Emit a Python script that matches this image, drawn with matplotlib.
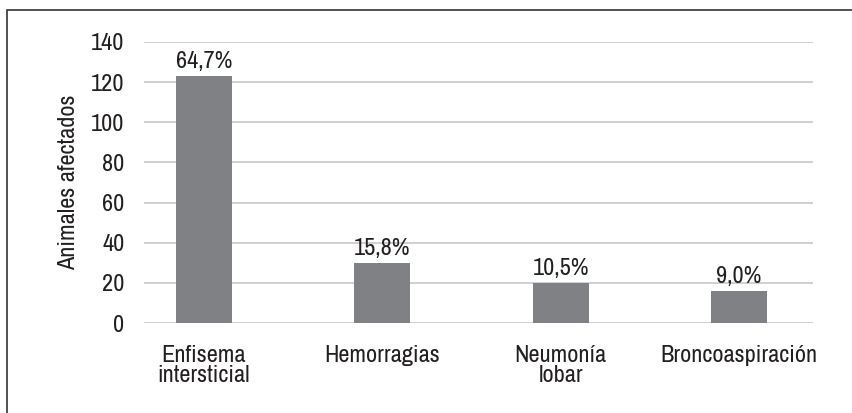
import matplotlib
matplotlib.use("Agg")
import matplotlib.pyplot as plt
from matplotlib.patches import Rectangle

categories = ["Enfisema\nintersticial", "Hemorragias", "Neumonía\nlobar", "Broncoaspiración"]
afectados = [123, 30, 20, 16]
porcentajes = ["64,7%", "15,8%", "10,5%", "9,0%"]
yticks = [0, 20, 40, 60, 80, 100, 120, 140]

plt.rcParams['font.family'] = ['Archivo Narrow', 'DejaVu Sans']
text_color = "#231f20"
fs = 17.5

W, H = 853, 413
fig = plt.figure(figsize=(W / 100, H / 100), dpi=100)
ax = fig.add_axes([144 / W, (H - 323) / H, (813 - 144) / W, (323 - 42) / H])

x = range(len(categories))
bars = ax.bar(x, afectados, width=0.314, color="#808184", zorder=3)
for b, p in zip(bars, porcentajes):
    ax.annotate(p, (b.get_x() + b.get_width() / 2, b.get_height()),
                xytext=(0, 3), textcoords="offset points",
                ha="center", va="bottom", fontsize=fs, color=text_color)

ax.set_xlim(-0.336, 3.415)
ax.set_ylim(0, 140)
ax.set_yticks(yticks)
ax.set_yticklabels([str(v) for v in yticks], fontsize=fs, color=text_color)
ax.set_xticks(list(x))
ax.set_xticklabels(categories, fontsize=fs, color=text_color, linespacing=0.92)
ax.tick_params(axis="both", length=0)
ax.tick_params(axis="y", pad=14)
ax.tick_params(axis="x", pad=16)
ax.grid(axis="y", color="#c8c8c8", linewidth=1.2, zorder=0)
for s in ax.spines.values():
    s.set_visible(False)
ax.set_ylabel("Animales afectados", fontsize=fs, color=text_color, labelpad=9)

# outer frame (cut off on right and bottom)
fig.patches.append(Rectangle((7 / W, -0.1), 1.2, (H - 10) / H + 0.1,
                             transform=fig.transFigure, fill=False,
                             edgecolor="#333333", linewidth=1.2))

fig.savefig("out.png", dpi=100)
